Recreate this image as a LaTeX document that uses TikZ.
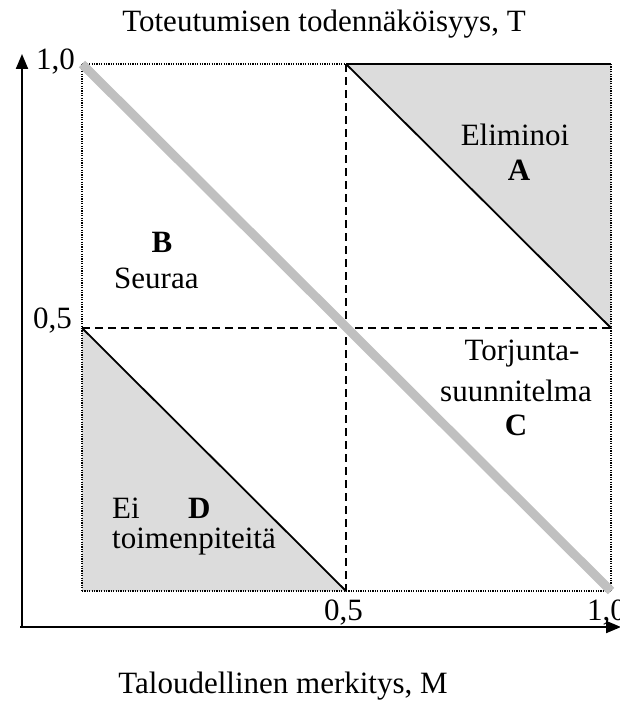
\documentclass[tikz,border=0pt]{standalone}
\usepackage{fontspec}
\setmainfont{Liberation Serif}
\usetikzlibrary{arrows.meta}
\definecolor{tri}{HTML}{DCDCDC}
\definecolor{diag}{HTML}{C0C0C0}
\tikzset{
  lbl/.style={inner sep=0pt, font=\fontsize{31}{36}\selectfont, anchor=base west},
  lblc/.style={inner sep=0pt, font=\fontsize{31}{36}\selectfont, anchor=base},
  dotline/.style={line width=1.8pt, dash pattern=on 1.2pt off 1.2pt},
  dashline/.style={line width=1.8pt, dash pattern=on 8pt off 5pt},
  solidline/.style={line width=1.8pt},
  axisline/.style={line width=2pt, -{Triangle[length=15pt,width=12pt]}},
}
\begin{document}
\begin{tikzpicture}[x=1pt,y=-1pt]
\useasboundingbox (0,0) rectangle (620,701);
% corners
\coordinate (TL) at (82,64);
\coordinate (TM) at (346,64);
\coordinate (TR) at (611,64);
\coordinate (ML) at (82,328);
\coordinate (MM) at (346,328);
\coordinate (MR) at (611,328);
\coordinate (BL) at (82,591);
\coordinate (BM) at (346,591);
\coordinate (BR) at (611,591);
\coordinate (O) at (22,627);
\coordinate (Ytop) at (22,54);
\coordinate (Xstart) at (20,627);
\coordinate (Xend) at (621,627);
% triangles
\fill[tri] (TM) -- (TR) -- (MR) -- cycle;
\fill[tri] (ML) -- (BL) -- (BM) -- cycle;
% outer dotted square
\draw[dotline] (TL) -- (TM);
\draw[dotline] (TL) -- (BL);
\draw[dotline] (BL) -- (BR);
\draw[dotline] (TR) -- (BR);
% midlines
\draw[dashline] (TM) -- (BM);
\draw[dashline] (ML) -- (MR);
% triangle solid edges
\draw[solidline] (TM) -- (TR);
\draw[solidline] (TM) -- (MR);
\draw[solidline] (ML) -- (BM);
% gray diagonal
\draw[diag, line width=9pt] (TL) -- (BR);
% axes
\draw[axisline] (O) -- (Ytop);
\draw[axisline] (Xstart) -- (Xend);
% labels
\node[lblc] (title) at (324,32) {Toteutumisen todennäköisyys, T};
\node[lblc] (xlabel) at (283,693) {Taloudellinen merkitys, M};
\node[lbl] (y10) at (36,70) {1,0};
\node[lbl] (y05) at (33,328) {0,5};
\node[lbl] (x05) at (324,620) {0,5};
\node[lbl] (x10) at (587,620) {1,0};
\node[lblc] (elim) at (515,145) {Eliminoi};
\node[lblc, font=\fontsize{31}{36}\selectfont\bfseries] (A) at (519,180) {A};
\node[lblc, font=\fontsize{31}{36}\selectfont\bfseries] (B) at (162,252) {B};
\node[lbl] (seuraa) at (114,288) {Seuraa};
\node[lblc] (torj) at (522,360) {Torjunta-};
\node[lblc] (suun) at (516,401) {suunnitelma};
\node[lblc, font=\fontsize{31}{36}\selectfont\bfseries] (C) at (516,435) {C};
\node[lbl] (ei) at (112,518) {Ei};
\node[lbl, font=\fontsize{31}{36}\selectfont\bfseries] (D) at (188,518) {D};
\node[lbl] (toim) at (112,548) {toimenpiteitä};
\end{tikzpicture}
\end{document}
